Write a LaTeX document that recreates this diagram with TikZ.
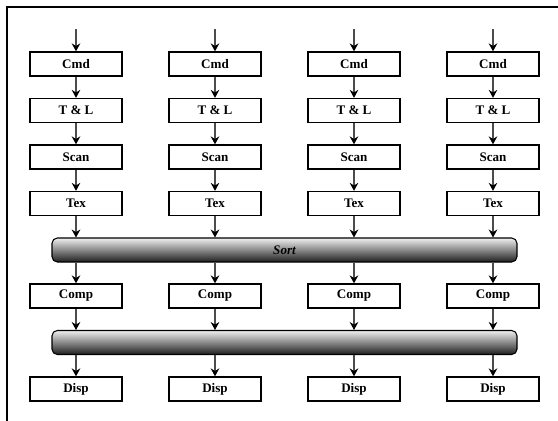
\documentclass[tikz,border=0pt]{standalone}
\usepackage{fontspec}
\setmainfont{Liberation Serif}
\usetikzlibrary{arrows.meta}

\tikzset{
  stage/.style={draw, line width=1pt, minimum width=69pt, minimum height=18pt, inner sep=0pt,
                font=\fontsize{9.8}{11}\selectfont\bfseries},
  flow/.style={draw=black!70, line width=0.8pt, -{Stealth[color=black,length=6pt,width=6.5pt,inset=2pt]}},
  bar/.style={draw, line width=0.8pt, rounded corners=4pt, minimum width=348.75pt, minimum height=18pt,
              inner sep=0pt, top color=black!6, middle color=black!25, bottom color=black!88,
              font=\fontsize{9.8}{11}\selectfont\bfseries\itshape}
}

\begin{document}
\begin{tikzpicture}[x=0.75pt,y=-0.75pt]
\useasboundingbox (0,0) rectangle (558,421);
\draw[line width=1pt] (7,421) -- (7,7) -- (558,7);
\node[bar] (sortbar) at (284.5,250)   {Sort};
\node[bar] (dispbar) at (284.5,342.5) {};
\foreach \i/\x in {1/76,2/215,3/354,4/493}{
  \coordinate (in\i) at (\x,29);
  \node[stage] (cmd\i)  at (\x,64)    {Cmd};
  \node[stage] (tl\i)   at (\x,110.5) {T \& L};
  \node[stage] (scan\i) at (\x,157)   {Scan};
  \node[stage] (tex\i)  at (\x,203.5) {Tex};
  \node[stage] (comp\i) at (\x,296)   {Comp};
  \node[stage] (disp\i) at (\x,389)   {Disp};
  \draw[flow] (in\i) -- (cmd\i);
  \draw[flow] (cmd\i) -- (tl\i);
  \draw[flow] (tl\i) -- (scan\i);
  \draw[flow] (scan\i) -- (tex\i);
  \draw[flow] (tex\i) -- (tex\i |- sortbar.north);
  \draw[flow] (comp\i |- sortbar.south) -- (comp\i);
  \draw[flow] (comp\i) -- (comp\i |- dispbar.north);
  \draw[flow] (disp\i |- dispbar.south) -- (disp\i);
}
\end{tikzpicture}
\end{document}
